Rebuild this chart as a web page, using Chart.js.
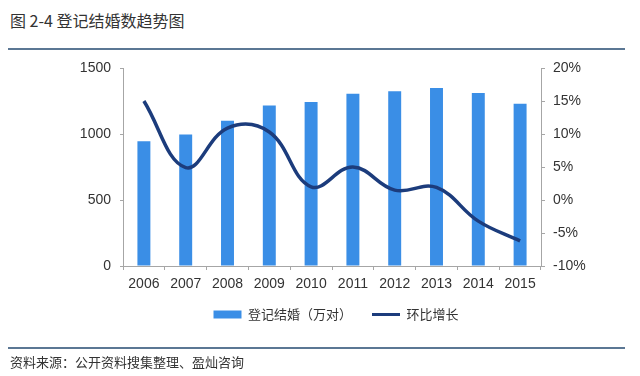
<!DOCTYPE html>
<html>
<head>
<meta charset="utf-8">
<script src="https://cdn.jsdelivr.net/npm/chart.js@4"></script>
<style>
  body { margin: 0; background: #fff; width: 640px; height: 376px; overflow: hidden; position: relative; font-family: "Noto Sans CJK SC", sans-serif; }
  .title { position: absolute; left: 10px; top: 8px; font-size: 16px; color: #333; }
  .rule { position: absolute; left: 8px; width: 617px; height: 2px; background: #5b7794; }
  .source { position: absolute; left: 10px; top: 352px; font-size: 13px; color: #333; }
  #wrap { position: absolute; left: 0; top: 0; width: 640px; height: 376px; }
</style>
</head>
<body>
<div class="title">图 2-4 登记结婚数趋势图</div>
<div class="rule" style="top:48px"></div>
<div id="wrap"><canvas id="marriageChart"></canvas></div>
<div class="rule" style="top:347px"></div>
<div class="source">资料来源：公开资料搜集整理、盈灿咨询</div>
<script>
// data
const years = ['2006', '2007', '2008', '2009', '2010', '2011', '2012', '2013', '2014', '2015'];
const marriages = [946, 997, 1100, 1215, 1243, 1305, 1324, 1348, 1310, 1230];   // 万对
const growth = [15.0, 4.9, 10.9, 10.3, 2.0, 5.0, 1.5, 1.9, -3.2, -6.2];        // %

const barColor = '#3a8ee6';
const lineColor = '#1c3c7c';
const axisColor = '#a6a6a6';
const tickFont = { family: 'Liberation Sans', size: 14 };

const ctx = document.getElementById('marriageChart').getContext('2d');
const marriageChart = new Chart(ctx, {
  data: {
    labels: years,
    datasets: [
      {
        type: 'line',
        label: '环比增长',
        data: growth,
        yAxisID: 'y1',
        borderColor: lineColor,
        backgroundColor: lineColor,
        borderWidth: 3.5,
        tension: 0.4,
        pointRadius: 0,
        order: 0
      },
      {
        type: 'bar',
        label: '登记结婚（万对）',
        data: marriages,
        yAxisID: 'y',
        backgroundColor: barColor,
        categoryPercentage: 1,
        barPercentage: 0.31,
        order: 1
      }
    ]
  },
  options: {
    responsive: true,
    maintainAspectRatio: false,
    animation: false,
    layout: { padding: { top: 68, left: 32, right: 0, bottom: 45 } },
    plugins: {
      tooltip: { enabled: false },
      legend: {
        position: 'bottom',
        reverse: true,
        labels: {
          font: { family: 'Noto Sans CJK SC', size: 13 },
          color: '#333',
          usePointStyle: true,
          pointStyleWidth: 28,
          boxHeight: 8,
          padding: 20,
          generateLabels(chart) {
            const items = Chart.defaults.plugins.legend.labels.generateLabels(chart);
            items.forEach(item => {
              if (item.text === '环比增长') {
                item.pointStyle = 'line';
                item.lineWidth = 3;
                item.strokeStyle = lineColor;
              } else {
                item.pointStyle = 'rect';
                item.lineWidth = 0;
                item.fillStyle = barColor;
              }
            });
            return items;
          }
        }
      }
    },
    scales: {
      x: {
        offset: true,
        grid: { offset: true, drawOnChartArea: false, tickLength: 4, color: axisColor },
        border: { color: axisColor },
        ticks: { font: tickFont, color: '#333', padding: 6, maxRotation: 0 },
        afterFit(scale) { scale.height = 22; }
      },
      y: {
        position: 'left',
        min: 0,
        max: 1500,
        grid: { drawOnChartArea: false, tickLength: 3, color: axisColor },
        border: { color: axisColor },
        ticks: { stepSize: 500, font: tickFont, color: '#333', padding: 9, callback: v => String(v) },
        afterFit(scale) { scale.width = 91; }
      },
      y1: {
        position: 'right',
        min: -10,
        max: 20,
        grid: { drawOnChartArea: false, tickLength: 4, color: axisColor },
        border: { color: axisColor },
        ticks: {
          stepSize: 5,
          font: tickFont,
          color: '#333',
          padding: 8,
          callback: v => v + '%'
        },
        afterFit(scale) { scale.width = 99; }
      }
    }
  }
});
</script>
</body>
</html>
